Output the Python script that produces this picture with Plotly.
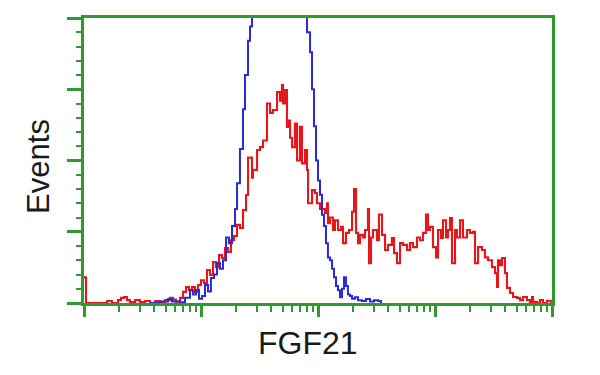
import plotly.graph_objects as go

# Fluorescence positions given as log10(intensity); counts in arbitrary event units (0-100 full scale)
red_log = [0.0, 0.017, 0.137, 0.197, 0.239, 0.291, 0.316, 0.342, 0.368, 0.393, 0.436, 0.479, 0.521, 0.564,
           0.607, 0.650, 0.692, 0.735, 0.761, 0.786, 0.821, 0.846, 0.872, 0.897, 0.923, 0.949, 0.974, 1.000,
           1.026, 1.051, 1.077, 1.103, 1.128, 1.154, 1.179, 1.205, 1.231, 1.256, 1.282, 1.308, 1.333, 1.359,
           1.385, 1.402, 1.436, 1.444, 1.479, 1.504, 1.530, 1.564, 1.590, 1.615, 1.650, 1.675, 1.692, 1.701,
           1.718, 1.735, 1.744, 1.761, 1.778, 1.803, 1.821, 1.846, 1.863, 1.889, 1.906, 1.915, 1.949, 1.974,
           1.991, 2.017, 2.060, 2.077, 2.085, 2.103, 2.128, 2.145, 2.171, 2.197, 2.214, 2.239, 2.265, 2.291,
           2.308, 2.325, 2.342, 2.359, 2.385, 2.402, 2.427, 2.436, 2.453, 2.470, 2.504, 2.521, 2.547, 2.573,
           2.598, 2.632, 2.650, 2.675, 2.701, 2.726, 2.761, 2.786, 2.812, 2.846, 2.872, 2.897, 2.923, 2.940,
           2.957, 2.983, 3.009, 3.026, 3.051, 3.068, 3.094, 3.111, 3.128, 3.145, 3.171, 3.188, 3.214, 3.239,
           3.274, 3.299, 3.325, 3.342, 3.368, 3.402, 3.427, 3.453, 3.487, 3.513, 3.530, 3.538,
           3.556, 3.573, 3.598, 3.615, 3.641, 3.667, 3.701, 3.726, 3.752, 3.786, 3.812, 3.829, 3.838, 3.872,
           3.897, 3.923, 3.957, 3.990]
red_counts = [9, 0, 0, 0.7, 0, 1, 1.8, 2.1, 1, 0.3, 1, 0.3, 0.7, 0,
              0.7, 0.3, 1, 1.8, 1.2, 0.5, 1.8, 3.9, 5.6, 4.6, 5.6, 3.9, 6.3, 8,
              7, 11.6, 9.8, 14.4, 12.6, 16.8, 15.8, 19.3, 17.9, 22, 23.5, 27.4, 26.3, 32.6,
              37.9, 51, 44, 46.7, 53.7, 54.7, 57, 70, 66.7, 67.7, 74, 71, 76.5, 70,
              74.7, 61.8, 64, 58, 54.7, 63, 50, 61.8, 49, 53.7, 46.7, 35, 39.6, 38.6,
              35, 33, 31.6, 35, 28, 30, 25.6, 29, 25.6, 26.7, 21, 24.6, 25.6, 32,
              40, 24.6, 21, 23.9, 23, 25.6, 33, 14, 23, 25.6, 22, 31, 23.9, 18.6,
              20.4, 22.8, 17.5, 14, 21, 20.4, 18.6, 21, 19.6, 23, 22, 24.6, 31, 25.6,
              26.7, 19.6, 16, 25.6, 22.8, 29, 23, 25.6, 29.8, 14, 25.6, 23, 29, 23,
              25.6, 24.6, 25, 14, 19.6, 18.6, 16, 15, 12.6, 10.5, 5.6, 15,
              13.3, 15.8, 10.5, 5.3, 3.5, 2.1, 1.8, 1, 2.1, 1, 0.4, 2.1, 0.4, 0,
              1, 0, 0.8, 0]

blue_log = [0.564, 0.650, 0.718, 0.752, 0.821, 0.863, 0.906, 0.932, 0.957, 0.983, 1.009, 1.034, 1.060,
            1.085, 1.111, 1.137, 1.162, 1.188, 1.214, 1.239, 1.265, 1.291, 1.308, 1.333, 1.359, 1.376,
            1.402, 1.419, 1.436, 1.504, 1.564, 1.624, 1.684, 1.744, 1.803, 1.846, 1.889, 1.906, 1.932,
            1.949, 1.966, 1.983, 2.000, 2.017, 2.034, 2.051, 2.068, 2.085, 2.103, 2.120, 2.137, 2.154,
            2.171, 2.188, 2.205, 2.222, 2.239, 2.256, 2.274, 2.291, 2.316, 2.342, 2.376, 2.410, 2.444,
            2.479, 2.513, 2.538]
blue_counts = [0, 0.5, 1.4, 0.5, 0.3, 1.8, 4.5, 3, 4.6, 1.5, 2.5, 6.3, 4,
               8.8, 10, 14, 12, 15, 23, 21, 27, 33, 42, 54, 68, 80,
               92, 97, 125, 145, 160, 170, 172, 165, 150, 130, 112, 95, 88,
               75, 62, 50, 43, 38, 31, 27, 21, 16, 15, 12, 9, 6,
               4.5, 2, 5, 9, 6, 3, 2.5, 1.5, 2, 1, 0.7, 1.4, 0.5,
               1, 0.7, 0]

x_title = "FGF21"
y_title = "Events"

GREEN = "#2f9a2f"
FONT = "Liberation Sans, Arial, sans-serif"

fig = go.Figure()
fig.add_trace(go.Scatter(x=[10 ** v for v in red_log], y=red_counts, mode="lines",
                         line=dict(color="#e8161b", width=2.1, shape="hv"), showlegend=False))
fig.add_trace(go.Scatter(x=[10 ** v for v in blue_log], y=blue_counts, mode="lines",
                         line=dict(color="#2a2ad6", width=2.0, shape="hv"), showlegend=False))

major_x = [1, 10, 100, 1000, 10000]
minor_x = [k * 10 ** d for d in range(4) for k in range(2, 10)]

fig.update_xaxes(type="log", range=[0, 4], showgrid=False, zeroline=False,
                 showline=True, linecolor=GREEN, linewidth=3, mirror=True,
                 ticks="outside", tickmode="array", tickvals=major_x, ticklen=11, tickwidth=2.5,
                 tickcolor=GREEN, showticklabels=False,
                 minor=dict(ticks="outside", tickmode="array", tickvals=minor_x, ticklen=6,
                            tickwidth=2, tickcolor=GREEN, showgrid=False))
fig.update_yaxes(range=[0, 100], showgrid=False, zeroline=False,
                 showline=True, linecolor=GREEN, linewidth=3, mirror=True,
                 ticks="outside", tickmode="array", tickvals=[0, 25, 50, 75, 100], ticklen=14,
                 tickwidth=2.5, tickcolor=GREEN, showticklabels=False,
                 minor=dict(ticks="outside", tickmode="array",
                            tickvals=[v for v in range(5, 100, 5) if v % 25], ticklen=5,
                            tickwidth=2, tickcolor=GREEN, showgrid=False))

fig.add_annotation(text=y_title, xref="paper", yref="paper", x=-0.0962, y=0.481,
                   xanchor="center", yanchor="middle", textangle=-90, showarrow=False,
                   font=dict(family=FONT, size=31, color="#1a1a1a"))
fig.add_annotation(text=x_title, xref="paper", yref="paper", x=0.4776, y=-0.14,
                   xanchor="center", yanchor="middle", showarrow=False,
                   font=dict(family=FONT, size=32, color="#1a1a1a"))

fig.update_layout(width=600, height=375, margin=dict(l=84, r=48, t=18, b=72),
                  paper_bgcolor="white", plot_bgcolor="white")

fig.write_html("out.html")
